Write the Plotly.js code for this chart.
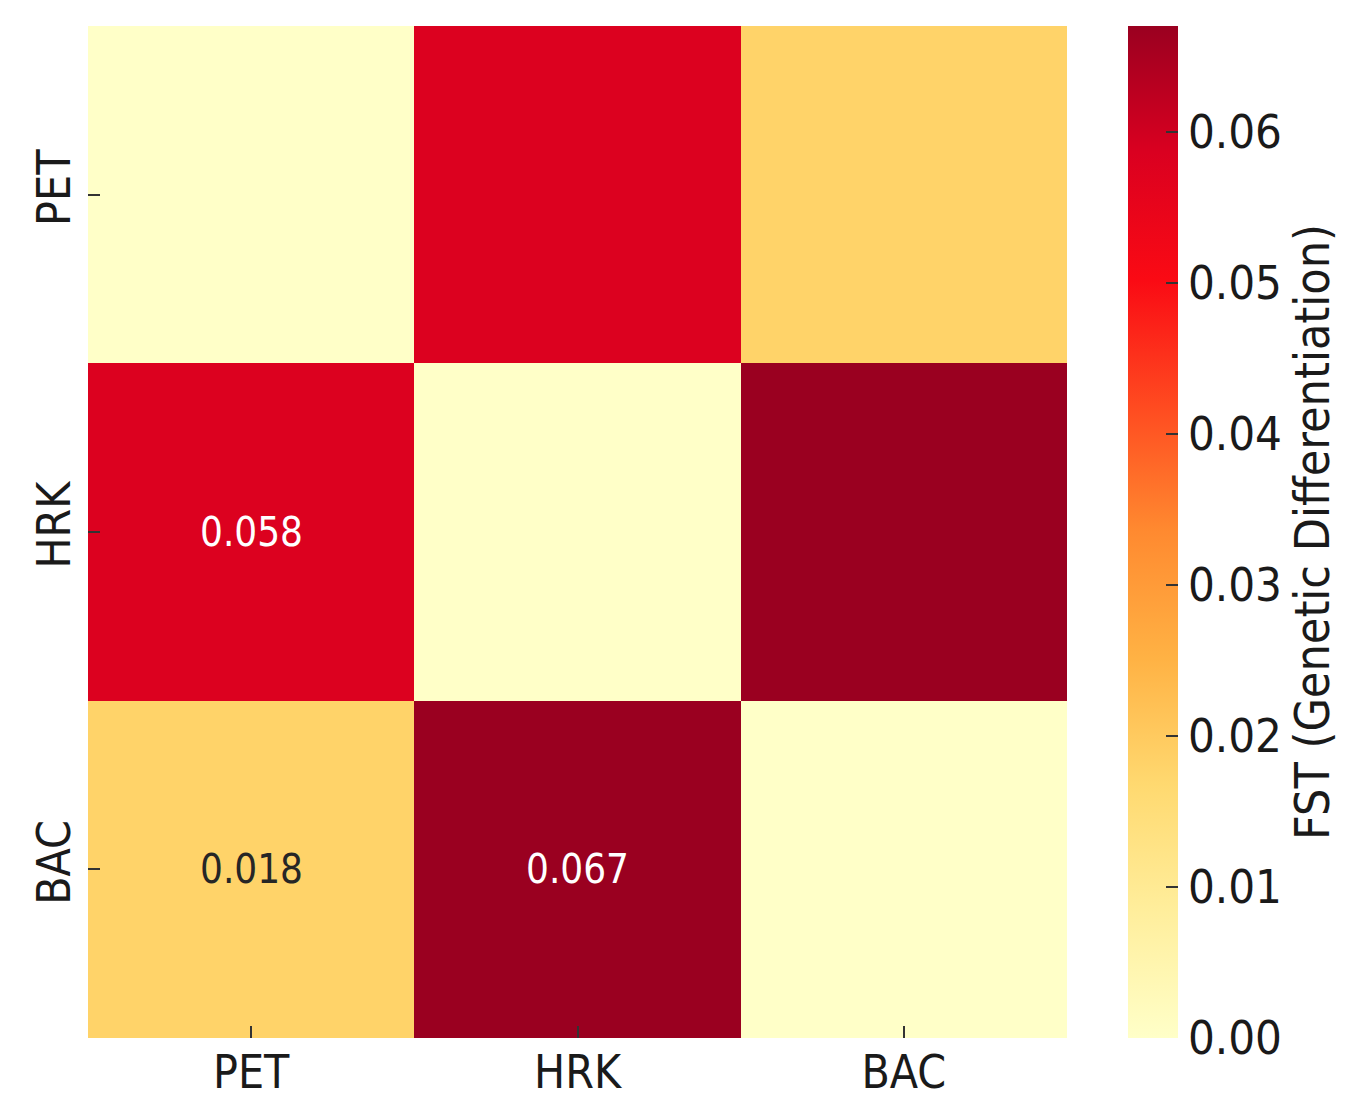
<!DOCTYPE html>
<html>
<head>
<meta charset="utf-8">
<script src="https://cdn.plot.ly/plotly-3.0.1.min.js"></script>
<style>html,body{margin:0;padding:0;background:#fff;}#chart{width:1372px;height:1116px;}</style>
</head>
<body>
<div id="chart"></div>
<script>
// Data
const populations = ['PET', 'HRK', 'BAC'];
const fstValues = [
  [0.000, 0.058, 0.018],
  [0.058, 0.000, 0.067],
  [0.018, 0.067, 0.000]
];
const colorbarTicks = [0.00, 0.01, 0.02, 0.03, 0.04, 0.05, 0.06];
const colorbarTickText = ['0.00', '0.01', '0.02', '0.03', '0.04', '0.05', '0.06'];
const colorbarTitle = 'FST (Genetic Differentiation)';

const FONT = '"DejaVu Sans Condensed", "DejaVu Sans", sans-serif';

const colorscale = [
  [0.000, '#ffffc8'],
  [0.125, '#ffee9c'],
  [0.250, '#ffd970'],
  [0.375, '#ffb244'],
  [0.500, '#ff8a30'],
  [0.625, '#ff4a20'],
  [0.750, '#fa0a14'],
  [0.875, '#da0020'],
  [1.000, '#9a0020']
];

const zmax = Math.max(...fstValues.flat());

// Annotations for lower triangle only
const annotations = [];
for (let i = 0; i < populations.length; i++) {
  for (let j = 0; j < i; j++) {
    const v = fstValues[i][j];
    annotations.push({
      x: populations[j], y: populations[i], xref: 'x', yref: 'y',
      text: v.toFixed(3), showarrow: false,
      font: {family: FONT, size: 40, color: v / zmax > 0.5 ? '#ffffff' : '#262626'}
    });
  }
}

const trace = {
  type: 'heatmap',
  x: populations,
  y: populations,
  z: fstValues,
  zmin: 0,
  zmax: zmax,
  colorscale: colorscale,
  hoverongaps: false,
  colorbar: {
    x: 1.0623, xanchor: 'left', xref: 'paper',
    y: 0.5, yanchor: 'middle', len: 1, lenmode: 'fraction',
    thickness: 50, thicknessmode: 'pixels',
    xpad: 0, ypad: 0,
    outlinewidth: 0,
    ticks: 'inside', ticklen: 12, tickwidth: 2, tickcolor: '#333',
    tickvals: colorbarTicks, ticktext: colorbarTickText,
    tickfont: {family: FONT, size: 47, color: '#1a1a1a'},
    title: {text: colorbarTitle, side: 'right', font: {family: FONT, size: 48, color: '#1a1a1a'}}
  }
};

const layout = {
  width: 1372, height: 1116,
  margin: {l: 88, r: 305, t: 26, b: 78, pad: 0},
  paper_bgcolor: '#ffffff', plot_bgcolor: '#ffffff',
  font: {family: FONT, color: '#1a1a1a'},
  showlegend: false,
  xaxis: {
    type: 'category', showgrid: false, zeroline: false, showline: false,
    ticks: 'inside', ticklen: 12, tickwidth: 2, tickcolor: '#333',
    tickfont: {family: FONT, size: 46, color: '#1a1a1a'},
    ticklabelstandoff: 3
  },
  yaxis: {
    type: 'category', autorange: 'reversed', showgrid: false, zeroline: false, showline: false,
    ticks: 'inside', ticklen: 12, tickwidth: 2, tickcolor: '#333',
    tickangle: -90,
    tickfont: {family: FONT, size: 46, color: '#1a1a1a'},
    ticklabelstandoff: 8
  },
  annotations: annotations
};

Plotly.newPlot('chart', [trace], layout, {displayModeBar: false, staticPlot: true});
</script>
</body>
</html>
